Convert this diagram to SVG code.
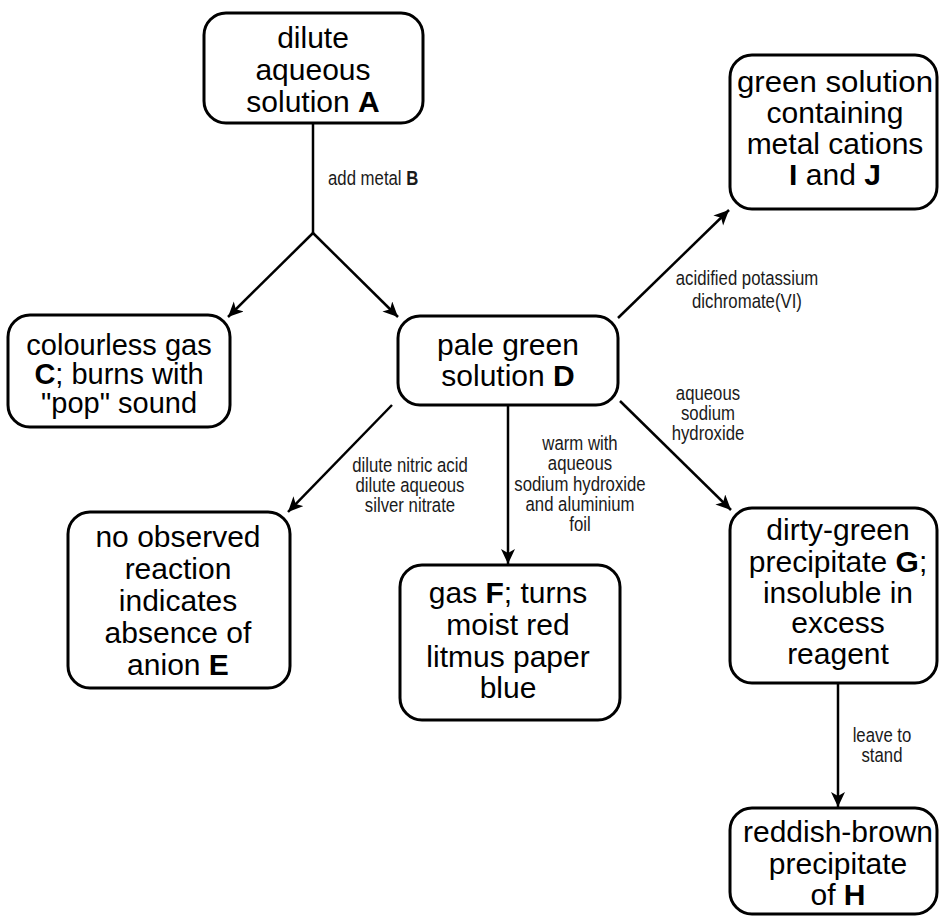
<svg xmlns="http://www.w3.org/2000/svg" width="939" height="916" viewBox="0 0 939 916">
<defs>
<style>
.box{fill:#fff;stroke:#000;stroke-width:3}
.t{font-family:"Liberation Sans",Arial,sans-serif;font-size:30px;text-anchor:middle;fill:#000}
.s{font-family:"Liberation Sans",Arial,sans-serif;font-size:19.5px;text-anchor:middle;fill:#1a1a1a}
.b{font-weight:bold}
.c{fill:none;stroke:#000;stroke-width:2.5}
</style>
<marker id="ah" markerUnits="userSpaceOnUse" markerWidth="20" markerHeight="16" refX="15" refY="7" orient="auto">
<path d="M0,0 L15,7 L0,14 L4,7 Z" fill="#000"/>
</marker>
</defs>
<g id="connectors">
<line class="c" x1="313" y1="123" x2="313" y2="233"/>
<line class="c" x1="313" y1="233" x2="228" y2="317" marker-end="url(#ah)"/>
<line class="c" x1="313" y1="233" x2="398" y2="317" marker-end="url(#ah)"/>
<line class="c" x1="618" y1="318" x2="729" y2="210" marker-end="url(#ah)"/>
<line class="c" x1="392" y1="405" x2="288" y2="512" marker-end="url(#ah)"/>
<line class="c" x1="508" y1="405" x2="508" y2="564" marker-end="url(#ah)"/>
<line class="c" x1="620" y1="401" x2="731" y2="510" marker-end="url(#ah)"/>
<line class="c" x1="838" y1="684" x2="838" y2="807" marker-end="url(#ah)"/>
<g transform="translate(328,0) scale(0.86,1) translate(-328,0)">
<text class="s" x="328" y="185" style="text-anchor:start">add metal <tspan class="b">B</tspan></text>
</g>
<g transform="translate(747,0) scale(0.86,1) translate(-747,0)">
<text class="s" x="747" y="285">acidified potassium</text>
<text class="s" x="747" y="308">dichromate(VI)</text>
</g>
<g transform="translate(410,0) scale(0.86,1) translate(-410,0)">
<text class="s" x="410" y="472">dilute nitric acid</text>
<text class="s" x="410" y="492">dilute aqueous</text>
<text class="s" x="410" y="512">silver nitrate</text>
</g>
<g transform="translate(580,0) scale(0.86,1) translate(-580,0)">
<text class="s" x="580" y="450">warm with</text>
<text class="s" x="580" y="470">aqueous</text>
<text class="s" x="580" y="491">sodium hydroxide</text>
<text class="s" x="580" y="511">and aluminium</text>
<text class="s" x="580" y="531">foil</text>
</g>
<g transform="translate(708,0) scale(0.86,1) translate(-708,0)">
<text class="s" x="708" y="400">aqueous</text>
<text class="s" x="708" y="420">sodium</text>
<text class="s" x="708" y="440">hydroxide</text>
</g>
<g transform="translate(882,0) scale(0.86,1) translate(-882,0)">
<text class="s" x="882" y="742">leave to</text>
<text class="s" x="882" y="762">stand</text>
</g>
</g>
<g id="nodeA">
<rect class="box" x="204" y="13" width="219" height="110" rx="22"/>
<text class="t" x="313" y="48">dilute</text>
<text class="t" x="313" y="80">aqueous</text>
<text class="t" x="313" y="112">solution <tspan class="b">A</tspan></text>
</g>
<g id="nodeIJ">
<rect class="box" x="730" y="55" width="207" height="154" rx="22"/>
<text class="t" x="835" y="92" textLength="196" lengthAdjust="spacingAndGlyphs">green solution</text>
<text class="t" x="835" y="123">containing</text>
<text class="t" x="835" y="154">metal cations</text>
<text class="t" x="835" y="185"><tspan class="b">I</tspan> and <tspan class="b">J</tspan></text>
</g>
<g id="nodeC">
<rect class="box" x="8" y="315" width="222" height="112" rx="22"/>
<text class="t" x="119" y="355" style="font-size:29px">colourless gas</text>
<text class="t" x="119" y="384" style="font-size:29px"><tspan class="b">C</tspan>; burns with</text>
<text class="t" x="119" y="413" style="font-size:29px">"pop" sound</text>
</g>
<g id="nodeD">
<rect class="box" x="398" y="316" width="220" height="89" rx="22"/>
<text class="t" x="508" y="355">pale green</text>
<text class="t" x="508" y="386">solution <tspan class="b">D</tspan></text>
</g>
<g id="nodeE">
<rect class="box" x="68" y="512" width="222" height="176" rx="22"/>
<text class="t" x="178" y="547">no observed</text>
<text class="t" x="178" y="579">reaction</text>
<text class="t" x="178" y="611">indicates</text>
<text class="t" x="178" y="643">absence of</text>
<text class="t" x="178" y="675">anion <tspan class="b">E</tspan></text>
</g>
<g id="nodeF">
<rect class="box" x="400" y="565" width="220" height="155" rx="22"/>
<text class="t" x="508" y="603">gas <tspan class="b">F</tspan>; turns</text>
<text class="t" x="508" y="635">moist red</text>
<text class="t" x="508" y="667">litmus paper</text>
<text class="t" x="508" y="698">blue</text>
</g>
<g id="nodeG">
<rect class="box" x="730" y="508" width="207" height="175" rx="22"/>
<text class="t" x="838" y="540">dirty-green</text>
<text class="t" x="838" y="572">precipitate <tspan class="b">G</tspan>;</text>
<text class="t" x="838" y="603">insoluble in</text>
<text class="t" x="838" y="633">excess</text>
<text class="t" x="838" y="664">reagent</text>
</g>
<g id="nodeH">
<rect class="box" x="730" y="808" width="207" height="106" rx="22"/>
<text class="t" x="838" y="842">reddish-brown</text>
<text class="t" x="838" y="874">precipitate</text>
<text class="t" x="838" y="905">of <tspan class="b">H</tspan></text>
</g>
</svg>
